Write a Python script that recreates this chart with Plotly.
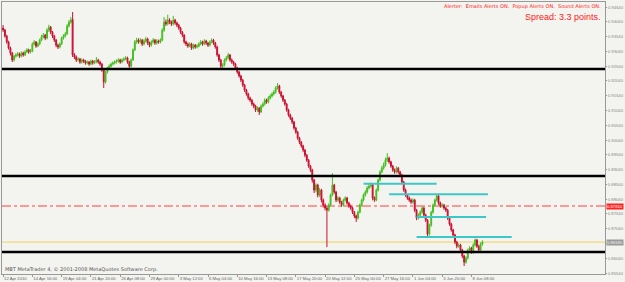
import plotly.graph_objects as go

# ---- data (prices in pips, /10000 -> price) ----
open_pips = [
9383,9376,9356,9336,9315,9298,9275,9288,9292,9295,
9288,9298,9292,9302,9309,9302,9305,9329,9336,9322,
9329,9342,9353,9359,9349,9376,9386,9369,9356,9342,
9325,9319,9329,9349,9356,9363,9390,9403,9412,9292,
9285,9275,9278,9268,9275,9271,9265,9268,9261,9271,
9265,9268,9275,9268,9261,9241,9200,9234,9248,9254,
9261,9265,9268,9271,9275,9268,9275,9278,9282,9268,
9254,9275,9309,9336,9342,9336,9342,9329,9339,9346,
9332,9325,9336,9342,9332,9339,9336,9342,9376,9403,
9397,9410,9403,9397,9410,9400,9393,9383,9369,9359,
9336,9329,9322,9329,9315,9325,9319,9322,9329,9336,
9329,9339,9332,9325,9336,9342,9332,9319,9292,9275,
9254,9258,9275,9282,9292,9275,9268,9261,9248,9234,
9221,9207,9190,9173,9160,9146,9139,9126,9119,9106,
9112,9099,9119,9126,9139,9133,9146,9153,9160,9166,
9180,9187,9166,9153,9139,9126,9106,9089,9078,9065,
9045,9031,9011,8997,8984,8970,8953,8936,8916,8903,
8869,8835,8852,8818,8835,8801,8784,8774,8767,8784,
8818,8852,8828,8801,8808,8794,8784,8801,8808,8791,
8781,8774,8760,8747,8740,8760,8784,8801,8818,8828,
8842,8848,8852,8808,8801,8835,8869,8896,8909,8919,
8936,8943,8930,8916,8903,8896,8909,8896,8886,8862,
8835,8818,8808,8801,8794,8801,8767,8740,8750,8760,
8774,8750,8733,8686,8716,8760,8784,8801,8815,8791,
8781,8784,8774,8767,8740,8720,8700,8683,8659,8645,
8649,8632,8612,8591,8605,8632,8639,8625,8649,8666,
8645,8632,8652]

high_pips = [
9393,9380,9360,9340,9320,9302,9292,9298,9302,9300,
9304,9303,9308,9315,9313,9312,9334,9342,9339,9335,
9347,9360,9366,9363,9382,9394,9390,9373,9360,9346,
9330,9334,9354,9362,9370,9396,9410,9420,9437,9298,
9290,9284,9282,9280,9279,9275,9273,9272,9276,9275,
9274,9285,9279,9272,9265,9245,9238,9252,9260,9266,
9270,9274,9277,9281,9279,9280,9284,9288,9286,9272,
9280,9314,9342,9350,9348,9349,9346,9345,9353,9350,
9337,9341,9349,9346,9345,9344,9348,9382,9420,9412,
9428,9416,9408,9424,9414,9405,9397,9387,9373,9362,
9340,9334,9335,9333,9330,9329,9328,9335,9342,9340,
9345,9343,9336,9341,9348,9346,9336,9323,9296,9279,
9264,9280,9288,9299,9295,9280,9272,9265,9252,9238,
9225,9211,9194,9177,9164,9151,9143,9131,9123,9118,
9116,9124,9132,9145,9144,9152,9159,9166,9173,9186,
9197,9191,9170,9157,9143,9130,9110,9093,9082,9069,
9049,9035,9015,9001,8988,8974,8957,8940,8920,8907,
8873,8858,8856,8842,8839,8806,8790,8780,8790,8823,
8892,8856,8832,8815,8812,8798,8806,8814,8812,8795,
8786,8778,8764,8752,8765,8789,8806,8823,8834,8848,
8855,8860,8856,8813,8840,8874,8902,8916,8928,8945,
8960,8948,8934,8920,8908,8915,8913,8900,8890,8866,
8840,8822,8813,8806,8807,8805,8771,8756,8766,8780,
8778,8755,8737,8721,8765,8789,8806,8822,8819,8796,
8790,8788,8779,8771,8744,8724,8704,8687,8663,8655,
8653,8636,8616,8611,8637,8645,8643,8655,8671,8670,
8650,8658,8665]

low_pips = [
9370,9350,9330,9310,9290,9268,9270,9282,9286,9282,
9284,9286,9288,9298,9296,9297,9301,9324,9316,9318,
9325,9338,9348,9342,9345,9370,9362,9349,9336,9318,
9312,9314,9325,9344,9351,9360,9385,9398,9285,9278,
9268,9270,9262,9263,9265,9259,9260,9255,9257,9259,
9261,9264,9262,9255,9235,9180,9195,9229,9243,9250,
9256,9260,9263,9266,9262,9264,9270,9274,9262,9248,
9250,9272,9305,9330,9330,9331,9322,9324,9334,9326,
9318,9320,9331,9326,9327,9330,9331,9338,9370,9390,
9392,9396,9390,9392,9394,9386,9377,9363,9352,9330,
9322,9316,9318,9309,9311,9313,9314,9318,9325,9323,
9325,9326,9319,9321,9331,9326,9313,9286,9268,9241,
9248,9253,9270,9277,9269,9262,9255,9242,9228,9215,
9200,9184,9167,9154,9140,9133,9120,9112,9099,9100,
9089,9095,9114,9121,9127,9128,9141,9148,9155,9161,
9175,9160,9147,9133,9120,9100,9083,9072,9058,9039,
9025,9005,8990,8978,8963,8946,8930,8910,8896,8860,
8825,8828,8810,8812,8793,8776,8766,8642,8762,8780,
8814,8822,8794,8796,8788,8778,8779,8796,8785,8775,
8768,8754,8740,8727,8735,8756,8779,8796,8813,8823,
8837,8843,8800,8795,8797,8830,8864,8891,8904,8914,
8930,8924,8910,8897,8890,8891,8890,8880,8856,8829,
8812,8802,8795,8788,8789,8760,8733,8735,8745,8755,
8744,8727,8676,8681,8711,8755,8779,8796,8785,8775,
8776,8768,8761,8734,8714,8694,8677,8652,8638,8640,
8625,8605,8578,8586,8600,8627,8619,8620,8644,8639,
8626,8627,8647]

close_pips = [
9376,9356,9336,9315,9298,9275,9288,9292,9295,9288,
9298,9292,9302,9309,9302,9305,9329,9336,9322,9329,
9342,9353,9359,9349,9376,9386,9369,9356,9342,9325,
9319,9329,9349,9356,9363,9390,9403,9410,9292,9285,
9275,9278,9268,9275,9271,9265,9268,9261,9271,9265,
9268,9275,9268,9261,9241,9200,9234,9248,9254,9261,
9265,9268,9271,9275,9268,9275,9278,9282,9268,9254,
9275,9309,9336,9342,9336,9342,9329,9339,9346,9332,
9325,9336,9342,9332,9339,9336,9342,9376,9403,9397,
9410,9403,9397,9410,9400,9393,9383,9369,9359,9336,
9329,9322,9329,9315,9325,9319,9322,9329,9336,9329,
9339,9332,9325,9336,9342,9332,9319,9292,9275,9254,
9258,9275,9282,9292,9275,9268,9261,9248,9234,9221,
9207,9190,9173,9160,9146,9139,9126,9119,9106,9112,
9099,9119,9126,9139,9133,9146,9153,9160,9166,9180,
9187,9166,9153,9139,9126,9106,9089,9078,9065,9045,
9031,9011,8997,8984,8970,8953,8936,8916,8903,8869,
8835,8852,8818,8835,8801,8784,8774,8767,8784,8818,
8852,8828,8801,8808,8794,8784,8801,8808,8791,8781,
8774,8760,8747,8740,8760,8784,8801,8818,8828,8842,
8848,8852,8808,8801,8835,8869,8896,8909,8919,8936,
8943,8930,8916,8903,8896,8909,8896,8886,8862,8835,
8818,8808,8801,8794,8801,8767,8740,8750,8760,8774,
8750,8733,8686,8716,8760,8784,8801,8815,8791,8781,
8784,8774,8767,8740,8720,8700,8683,8659,8645,8649,
8632,8612,8591,8605,8632,8639,8625,8649,8666,8645,
8632,8652,8659]

x_tick_bars = [0,16,32,48,64,80,96,112,128,144,160,176,192,208,224,240,256]
x_tick_labels = ["12 Apr 2010","14 Apr 16:00","19 Apr 04:00","21 Apr 20:00","26 Apr 08:00",
                 "29 Apr 00:00","3 May 12:00","6 May 04:00","10 May 16:00","13 May 08:00",
                 "17 May 20:00","20 May 12:00","25 May 00:00","27 May 16:00","1 Jun 04:00",
                 "3 Jun 20:00","8 Jun 08:00"]
y_tick_values = [0.94540,0.94040,0.93540,0.93040,0.92540,0.92040,0.91540,0.91040,0.90540,
                 0.90040,0.89540,0.89040,0.88540,0.88040,0.87540,0.87040,0.86540,0.86040,0.85540]

black_levels = [0.92443, 0.88823, 0.86252]
red_level = 0.87810
bid_level = 0.86590
cyan_start = [197, 211, 226, 226]
cyan_end = [237, 265, 264, 278]
cyan_level = [0.88560, 0.88210, 0.87440, 0.86760]

# ---- figure ----
bars = list(range(len(close_pips)))
o = [v / 10000 for v in open_pips]
h = [v / 10000 for v in high_pips]
l = [v / 10000 for v in low_pips]
c = [v / 10000 for v in close_pips]

BG = "#f3f3ef"
fig = go.Figure()
fig.add_trace(go.Candlestick(
    x=bars, open=o, high=h, low=l, close=c,
    increasing=dict(line=dict(color="#44c020", width=1), fillcolor="#44c020"),
    decreasing=dict(line=dict(color="#cc1030", width=1), fillcolor="#cc1030"),
    whiskerwidth=0, showlegend=False, hoverinfo="skip"))

shapes = []
for lv in black_levels:
    shapes.append(dict(type="line", xref="paper", x0=0, x1=1, yref="y", y0=lv, y1=lv,
                       line=dict(color="#000000", width=2.5), layer="above"))
shapes.append(dict(type="line", xref="paper", x0=0, x1=1, yref="y", y0=red_level, y1=red_level,
                   line=dict(color="#ff4040", width=1, dash="dashdot"), layer="below"))
shapes.append(dict(type="line", xref="paper", x0=0, x1=1, yref="y", y0=bid_level, y1=bid_level,
                   line=dict(color="#f2d15a", width=1), layer="below"))
for s, e, lv in zip(cyan_start, cyan_end, cyan_level):
    shapes.append(dict(type="line", xref="x", x0=s, x1=e, yref="y", y0=lv, y1=lv,
                       line=dict(color="#3cc8c8", width=2), layer="above"))

annotations = [
    dict(text="Alerter:  Emails Alerts ON.  Popup Alerts ON.  Sound Alerts ON.",
         xref="paper", yref="paper", x=1, y=0.985, xanchor="right", yanchor="middle",
         xshift=-2, showarrow=False, font=dict(family="DejaVu Sans", size=5, color="#ff2020")),
    dict(text="Spread: 3.3 points.", xref="paper", yref="paper", x=1, y=0.945,
         xanchor="right", yanchor="middle", xshift=-2, showarrow=False,
         font=dict(family="Liberation Sans", size=9, color="#ff2020")),
    dict(text="MBT MetaTrader 4, © 2001-2008 MetaQuotes Software Corp.", xref="paper",
         yref="paper", x=0, y=0.015, xanchor="left", yanchor="middle", xshift=1,
         showarrow=False, font=dict(family="DejaVu Sans", size=5, color="#555555")),
    dict(text="%.5f" % red_level, xref="paper", yref="y", x=1, y=red_level, xanchor="left",
         yanchor="middle", xshift=1, showarrow=False, bgcolor="#ff2020", borderpad=0,
         font=dict(family="Liberation Sans", size=4.2, color="#ffffff")),
    dict(text="%.5f" % bid_level, xref="paper", yref="y", x=1, y=bid_level, xanchor="left",
         yanchor="middle", xshift=1, showarrow=False, bgcolor="#9a9a9a", borderpad=0,
         font=dict(family="Liberation Sans", size=4.2, color="#f0f0f0")),
]

fig.update_layout(
    width=625, height=282, margin=dict(l=2, r=20, t=2, b=8, autoexpand=False),
    paper_bgcolor=BG, plot_bgcolor=BG, showlegend=False,
    shapes=shapes, annotations=annotations,
    xaxis=dict(range=[-0.6, 329], rangeslider=dict(visible=False), showgrid=False,
               zeroline=False, tickmode="array", tickvals=x_tick_bars, ticktext=x_tick_labels,
               ticks="outside", ticklen=2, tickcolor="#999", ticklabelposition="outside right",
               tickangle=0, automargin=False,
               tickfont=dict(family="Liberation Sans", size=4.2, color="#666"),
               showline=True, linecolor="#999", linewidth=1, mirror=True),
    yaxis=dict(range=[0.8551, 0.9471], side="right", showgrid=False, zeroline=False,
               tickmode="array", tickvals=y_tick_values, automargin=False,
               ticktext=["%.5f" % v for v in y_tick_values],
               ticks="outside", ticklen=1, tickcolor="#999",
               tickfont=dict(family="Liberation Sans", size=4.2, color="#888"),
               showline=True, linecolor="#999", linewidth=1, mirror=True),
)

fig.write_html("out.html")
